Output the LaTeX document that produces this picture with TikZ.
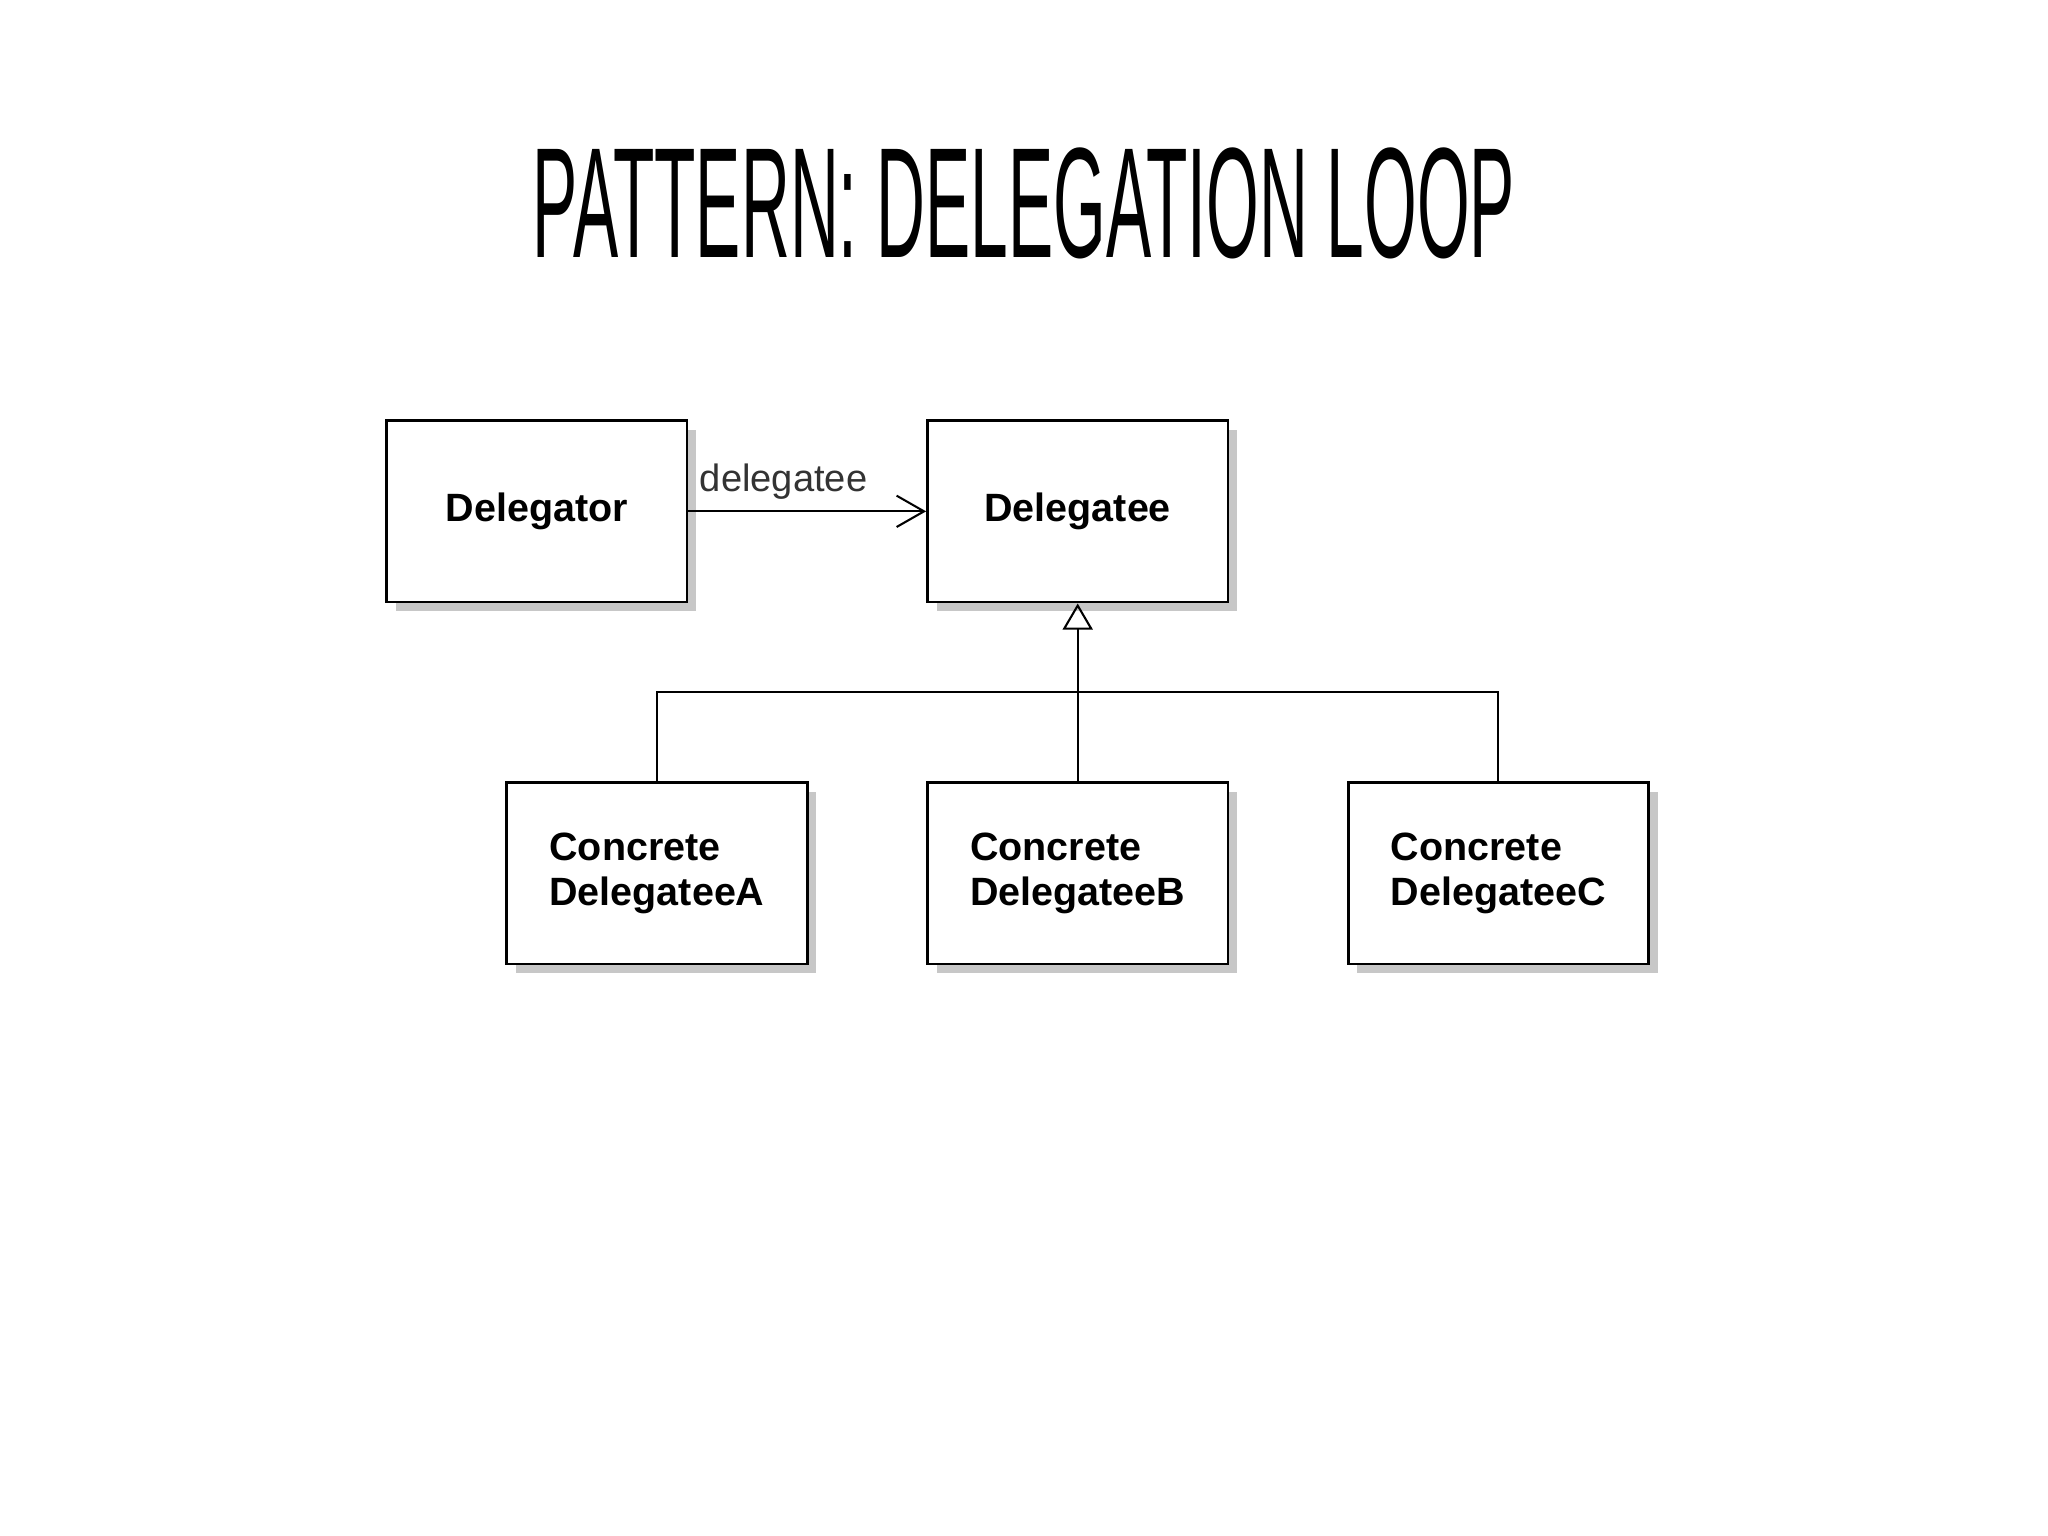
\documentclass[tikz,border=0pt]{standalone}
\usepackage{fontspec}
\setmainfont{Liberation Sans}
\usepackage{graphicx}
\usetikzlibrary{positioning,arrows.meta,shadows}

\begin{document}
\begin{tikzpicture}[
node distance=1.82cm,
box/.style={draw, line width=0.6pt, fill=white, minimum width=2.3cm, minimum height=1.39cm, inner sep=0pt, align=left, font=\fontsize{8.6}{9.7}\selectfont\bfseries, drop shadow={shadow xshift=0.07cm, shadow yshift=-0.07cm, fill=black!22, opacity=1}},
assoc/.style={-{Straight Barb[length=2.1mm,width=2.4mm]}, line width=0.45pt},
gen/.style={-{Triangle[open,length=2mm,width=2.3mm]}, line width=0.45pt},
link/.style={line width=0.45pt},
lbl/.style={font=\fontsize{8.3}{10}\selectfont, text=black!80, inner sep=0.08cm},
title/.style={inner sep=0pt, font=\mdseries}
]
\useasboundingbox (0,0) rectangle (15.68,-11.76);
\node[title] (ttl) at (7.84,-1.56) {\resizebox{7.52cm}{0.84cm}{PATTERN: DELEGATION LOOP}};
\node[box] (dlgr) at (4.11,-3.915) {Delegator};
\node[box, right=of dlgr] (dlgt) {Delegatee};
\node[box, below=1.36cm of dlgt] (cb) {Concrete\\DelegateeB};
\node[box, left=0.9cm of cb] (ca) {Concrete\\DelegateeA};
\node[box, right=0.9cm of cb] (cc) {Concrete\\DelegateeC};
\coordinate[below=0.68cm of dlgt] (bar);
\draw[assoc] (dlgr) -- node[lbl, above right, pos=0] {delegatee} (dlgt);
\draw[gen] (cb) -- (dlgt);
\draw[link] (ca) |- (bar) -| (cc);
\end{tikzpicture}
\end{document}
